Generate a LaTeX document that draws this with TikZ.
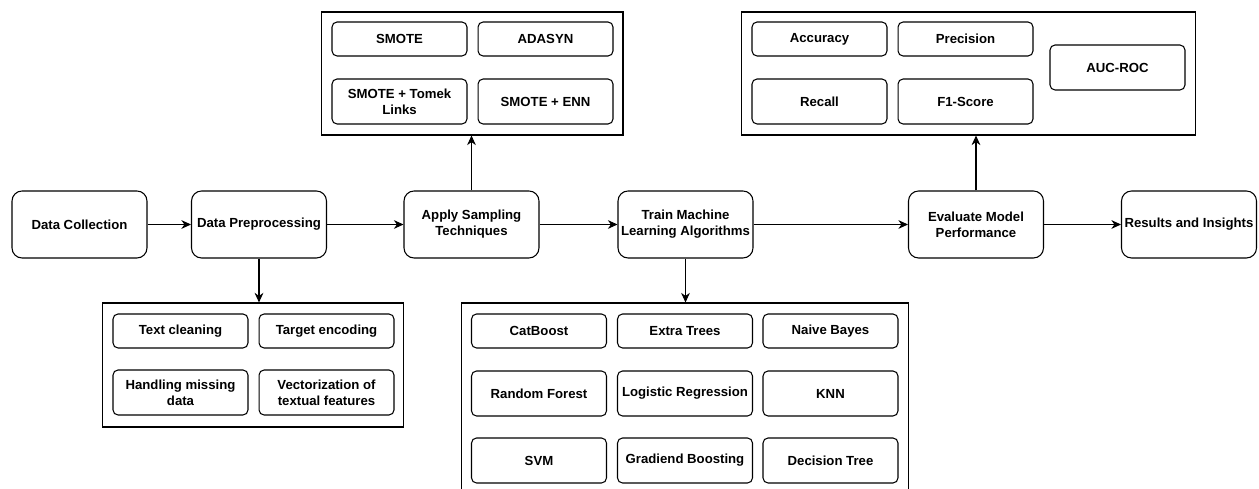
\documentclass[tikz,border=0pt]{standalone}
\usepackage{fontspec}
\setmainfont{Liberation Sans}
\usetikzlibrary{positioning, arrows.meta}

\begin{document}
\begin{tikzpicture}
[x=0.02cm, y=-0.02cm, line width=0.6pt,
 stage/.style={rectangle, draw, rounded corners=0.2cm, minimum width=2.7cm, minimum height=1.34cm, inner sep=0.5pt, align=center},
 item/.style={rectangle, draw, rounded corners=0.1cm, minimum width=2.7cm, minimum height=0.68cm, inner sep=0.5pt, align=center},
 tall/.style={item, minimum height=0.9cm},
 group/.style={rectangle, draw, inner sep=0pt},
 ->/.style={arrows={-Stealth[length=5.5pt, width=5pt]}},
 every node/.style={font=\fontsize{7.5}{9}\selectfont\bfseries}]

\clip (0,0) rectangle (1259,489);

% main pipeline
\node[stage] (collect) at (79.5,224.5) {Data Collection};
\node[stage] (prep) at (259,224.5) {Data Preprocessing};
\node[stage] (sampl) at (471.5,224.5) {Apply Sampling\\Techniques};
\node[stage] (train) at (685.5,224.5) {Train Machine\\Learning Algorithms};
\node[stage] (eval) at (976,224.5) {Evaluate Model\\Performance};
\node[stage] (result) at (1189,224.5) {Results and Insights};

% groups
\node[group, minimum width=6.04cm, minimum height=2.46cm] (smplgrp) at (472,73.5) {};
\node[group, minimum width=9.1cm, minimum height=2.46cm] (metgrp) at (968.5,73.5) {};
\node[group, minimum width=6.04cm, minimum height=2.48cm] (prepgrp) at (253,365) {};
\node[group, minimum width=8.96cm, minimum height=3.94cm] (mlgrp) at (685,401.5) {};

% sampling methods
\node[item] (smote) at (399.5,39) {SMOTE};
\node[item] (adasyn) [right = 0.2cm of smote] {ADASYN};
\node[tall] (tomek) at (399.5,101.5) {SMOTE + Tomek\\Links};
\node[tall] (enn) [right = 0.2cm of tomek] {SMOTE + ENN};

% metrics
\node[item] (acc) at (819.5,39) {Accuracy};
\node[item] (prec) [right = 0.2cm of acc] {Precision};
\node[tall] (recall) at (819.5,101.5) {Recall};
\node[tall] (fone) [right = 0.2cm of recall] {F1-Score};
\node[tall] (auc) at (1117.5,67.5) {AUC-ROC};

% preprocessing steps
\node[item] (clean) at (180.5,331) {Text cleaning};
\node[item] (target) [right = 0.2cm of clean] {Target encoding};
\node[tall] (missing) at (180.5,392.5) {Handling missing\\data};
\node[tall] (vector) [right = 0.2cm of missing] {Vectorization of\\textual features};

% algorithms
\node[item] (catb) at (539,331) {CatBoost};
\node[item] (extra) at (685,331) {Extra Trees};
\node[item] (naive) at (830.5,331) {Naive Bayes};
\node[tall] (rf) at (539,393.5) {Random Forest};
\node[tall] (logreg) at (685,393.5) {Logistic Regression};
\node[tall] (knn) at (830.5,393.5) {KNN};
\node[tall] (svm) at (539,460.5) {SVM};
\node[tall] (gboost) at (685,460.5) {Gradiend Boosting};
\node[tall] (dtree) at (830.5,460.5) {Decision Tree};

\draw[->] (collect) -- (prep);
\draw[->] (prep) -- (sampl);
\draw[->] (sampl) -- (train);
\draw[->] (train) -- (eval);
\draw[->] (eval) -- (result);
\draw[->] (prep.south) -- (prep.south |- prepgrp.north);
\draw[->] (sampl.north) -- (sampl.north |- smplgrp.south);
\draw[->] (train.south) -- (train.south |- mlgrp.north);
\draw[->] (eval.north) -- (eval.north |- metgrp.south);

\end{tikzpicture}
\end{document}
